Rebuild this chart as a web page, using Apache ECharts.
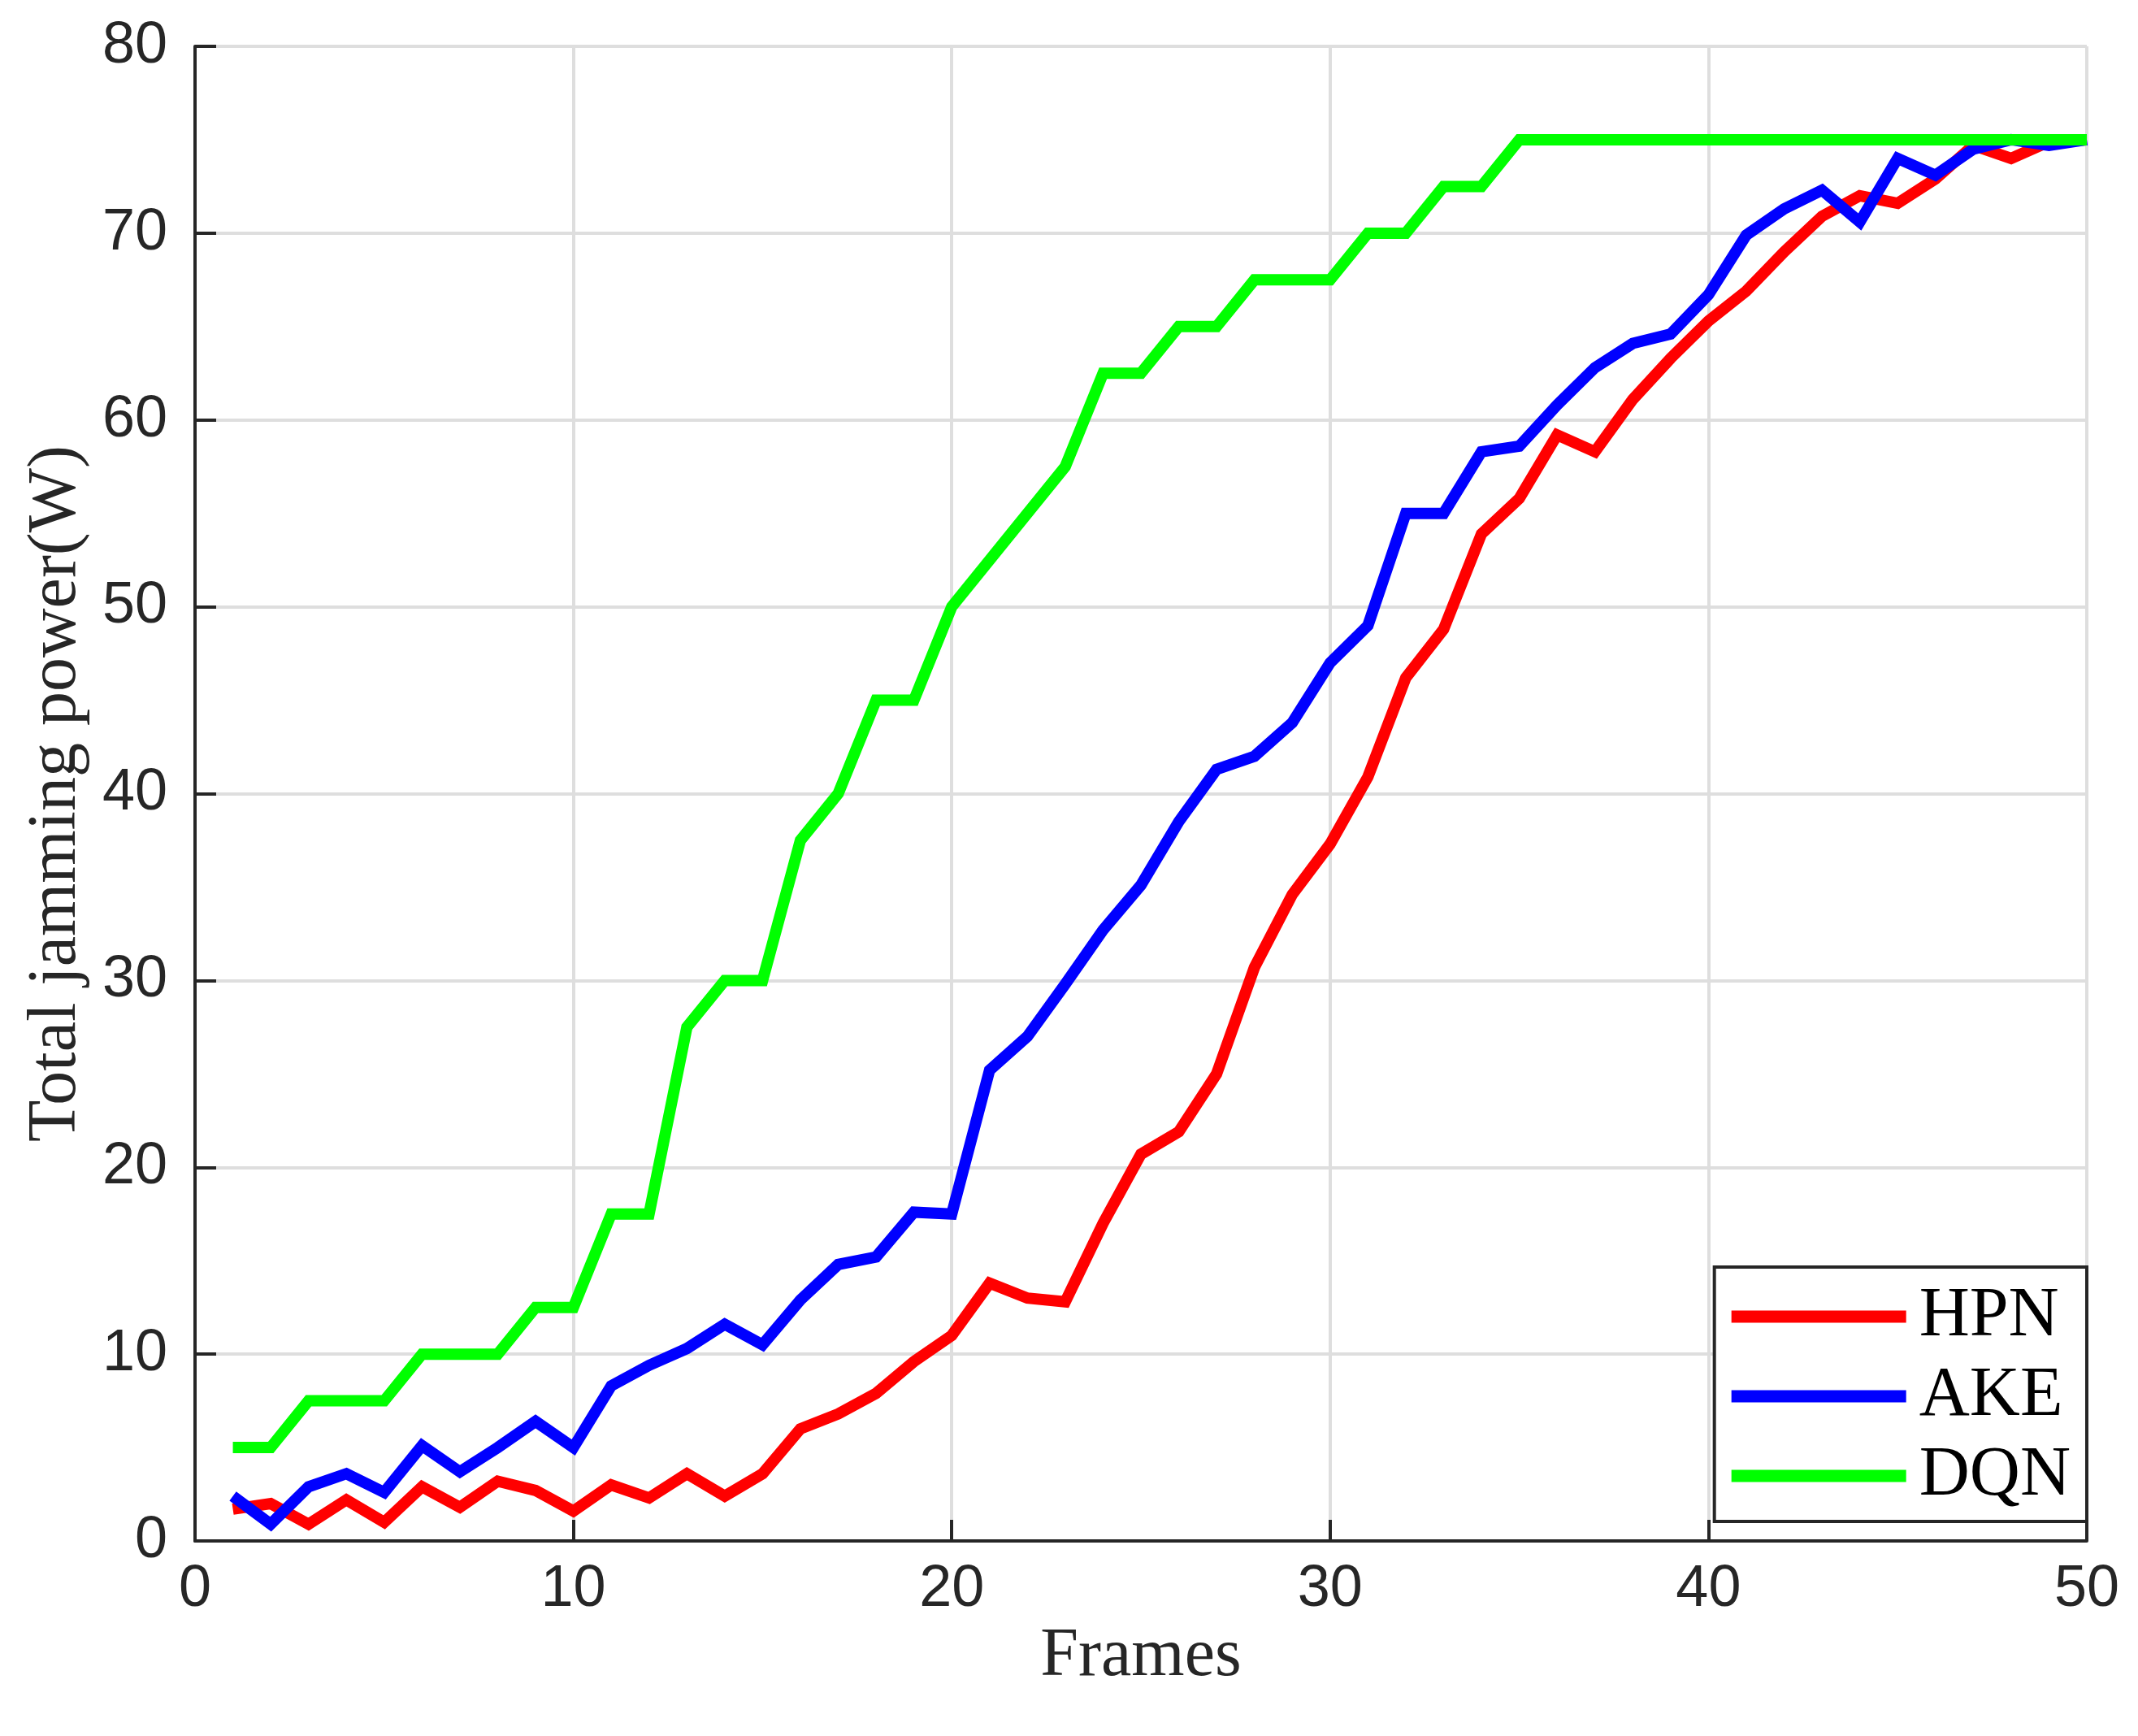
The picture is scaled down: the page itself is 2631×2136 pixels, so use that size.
<!DOCTYPE html>
<html>
<head>
<meta charset="utf-8">
<title>Total jamming power</title>
<script src="https://cdn.jsdelivr.net/npm/echarts@6/dist/echarts.min.js"></script>
<style>
    html, body { margin: 0; padding: 0; background: #fff; }
    #chart { width: 2631px; height: 2136px; }
</style>
</head>
<body>
<div id="chart"></div>
<script>
    // frames 1..50
    const frames = Array.from({length: 50}, (_, i) => i + 1);
    const xTicks = [0, 10, 20, 30, 40, 50];
    const yTicks = [0, 10, 20, 30, 40, 50, 60, 70, 80];
    const seriesNames = ['HPN', 'AKE', 'DQN'];

    const hpn = [1.7, 2.0, 0.9, 2.2, 1.0, 2.9, 1.8, 3.2, 2.7, 1.6,
        3.0, 2.3, 3.6, 2.4, 3.6, 6.0, 6.8, 7.9, 9.6, 11.0,
        13.8, 13.0, 12.8, 17.0, 20.7, 21.9, 25.0, 30.7, 34.6, 37.3,
        40.9, 46.2, 48.8, 53.9, 55.8, 59.2, 58.3, 61.1, 63.3, 65.3,
        66.9, 69.0, 70.9, 72.0, 71.6, 72.9, 74.7, 74.0, 74.9, 75.0];
    const ake = [2.4, 0.9, 2.9, 3.6, 2.6, 5.1, 3.7, 5.0, 6.4, 5.0,
        8.3, 9.4, 10.3, 11.6, 10.5, 12.9, 14.8, 15.2, 17.6, 17.5,
        25.2, 27.0, 29.8, 32.7, 35.1, 38.5, 41.3, 42.0, 43.8, 47.0,
        49.0, 55.0, 55.0, 58.3, 58.6, 60.8, 62.8, 64.1, 64.6, 66.7,
        69.9, 71.3, 72.3, 70.6, 74.0, 73.1, 74.5, 75.0, 74.7, 75.0];
    const dqn = [5, 5, 7.5, 7.5, 7.5, 10, 10, 10, 12.5, 12.5,
        17.5, 17.5, 27.5, 30, 30, 37.5, 40, 45, 45, 50,
        52.5, 55, 57.5, 62.5, 62.5, 65, 65, 67.5, 67.5, 67.5,
        70, 70, 72.5, 72.5, 75, 75, 75, 75, 75, 75,
        75, 75, 75, 75, 75, 75, 75, 75, 75, 75];
    const colors = ['#ff0000', '#0000ff', '#00ff00'];

    const axisColor = '#262626';
    const gridColor = '#dedede';
    const sans = '"Liberation Sans", Arial, Helvetica, sans-serif';
    const serif = '"Liberation Serif", "Times New Roman", serif';

    function pairs(vals) {
        return frames.map((f, i) => [f, vals[i]]);
    }

    let chart = echarts.init(document.getElementById('chart'));
    let option = {
        backgroundColor: '#fff',
        animation: false,
        grid: {
            left: 240,
            right: 63,
            top: 57,
            bottom: 240
        },
        legend: {
            orient: 'vertical',
            right: 63,
            top: 1559,
            backgroundColor: '#fff',
            borderColor: axisColor,
            borderWidth: 4,
            borderRadius: 0,
            padding: [18, 20, 13, 21],
            itemGap: 12,
            itemWidth: 215,
            itemHeight: 15,
            icon: 'rect',
            textStyle: {
                fontFamily: serif,
                fontSize: 86,
                lineHeight: 86,
                color: '#000',
                padding: [0, 0, 0, 11]
            },
            data: seriesNames
        },
        xAxis: {
            type: 'value',
            min: xTicks[0],
            max: xTicks[xTicks.length - 1],
            interval: xTicks[1] - xTicks[0],
            name: 'Frames',
            nameLocation: 'middle',
            nameGap: 76,
            nameTextStyle: {
                fontFamily: serif,
                fontSize: 84,
                color: axisColor
            },
            axisLine: {
                show: true,
                onZero: false,
                lineStyle: {color: axisColor, width: 4}
            },
            axisTick: {
                show: true,
                inside: true,
                length: 26,
                lineStyle: {color: axisColor, width: 4}
            },
            axisLabel: {
                margin: 24,
                fontFamily: sans,
                fontSize: 72,
                color: axisColor
            },
            splitLine: {
                show: true,
                lineStyle: {color: gridColor, width: 4}
            }
        },
        yAxis: {
            type: 'value',
            min: yTicks[0],
            max: yTicks[yTicks.length - 1],
            interval: yTicks[1] - yTicks[0],
            name: 'Total jamming power(W)',
            nameLocation: 'middle',
            nameGap: 128,
            nameTextStyle: {
                fontFamily: serif,
                fontSize: 84,
                color: axisColor
            },
            axisLine: {
                show: true,
                onZero: false,
                lineStyle: {color: axisColor, width: 4}
            },
            axisTick: {
                show: true,
                inside: true,
                length: 26,
                lineStyle: {color: axisColor, width: 4}
            },
            axisLabel: {
                margin: 34,
                fontFamily: sans,
                fontSize: 72,
                color: axisColor
            },
            splitLine: {
                show: true,
                lineStyle: {color: gridColor, width: 4}
            }
        },
        series: [hpn, ake, dqn].map((vals, i) => ({
            name: seriesNames[i],
            type: 'line',
            data: pairs(vals),
            showSymbol: false,
            symbol: 'none',
            color: colors[i],
            lineStyle: {
                color: colors[i],
                width: 14,
                join: 'miter'
            }
        }))
    };
    chart.setOption(option);
</script>
</body>
</html>
